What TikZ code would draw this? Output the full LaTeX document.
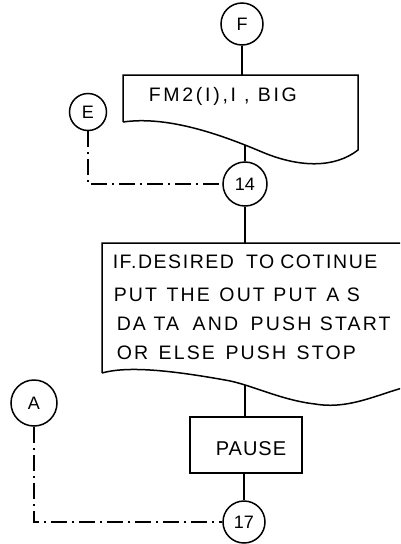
\documentclass[tikz,border=0pt]{standalone}
\usepackage{fontspec}
\setmainfont{Liberation Sans}
\newfontfamily\wide[LetterSpace=8]{Liberation Sans}
\newfontfamily\widea[LetterSpace=11]{Liberation Sans}
\newfontfamily\wider[LetterSpace=14]{Liberation Sans}
\newfontfamily\pausefont[LetterSpace=5]{Liberation Sans}
\newcommand{\gap}[1]{\hspace{#1pt}}
\begin{document}
\begin{tikzpicture}[x=1pt,y=-1pt,
  line width=1.5pt,
  conn/.style={circle,draw,minimum size=#1,inner sep=0pt,font=\fontsize{18}{18}\selectfont},
  conn/.default=42pt,
  box/.style={draw,minimum width=112pt,minimum height=56pt,inner sep=0pt},
  dd/.style={dash pattern=on 16pt off 5pt on 2pt off 5pt},
  txt/.style={font=\wide\fontsize{19.5}{19.5}\selectfont,inner sep=0pt,anchor=west},
  txtb/.style={font=\widea\fontsize{19.5}{19.5}\selectfont,inner sep=0pt,anchor=west}
]
\useasboundingbox (0,0) rectangle (400,544);
\clip (0,0) rectangle (400,544);
% connectors
\node[conn] (F) at (242,24) {F};
\node[conn=37pt] (E) at (88,112) {E};
\node[conn=44pt] (n14) at (245,184) {14};
\node[conn=46pt] (A) at (34,403) {A};
\node[conn=42pt] (n17) at (244,522) {17};
% document 1
\draw (123,122) -- (123,75) -- (358,75) -- (358,150)
  .. controls (335,168) and (300,168) .. (262,152)
  .. controls (215,132) and (165,116) .. (123,122);
\coordinate (d1top) at (F.south |- 0,75);
\coordinate (d1bot) at (n14.north |- 0,145);
\node[txt,font=\wider\fontsize{19.5}{19.5}\selectfont] (t1) at (148,96) {FM2(I),I , BIG};
% document 2
\draw (102,373) -- (102,243) -- (410,243) -- (410,386)
  .. controls (380,393) and (350,410) .. (315,404)
  .. controls (280,400) and (250,384) .. (225,380)
  .. controls (180,372) and (130,365) .. (102,373);
\coordinate (d2top) at (n14.south |- 0,243);
\coordinate (d2bot) at (245,385);
\node[txt] (l1) at (112,262) {IF.DESIRED\gap{12}TO\gap{6}COTINUE};
\node[txtb] (l2) at (113,295) {PUT \gap{2}THE \gap{2}OUT \gap{1}PUT \gap{2}A S};
\node[txtb] (l3) at (116,324) {DA TA \gap{6}AND \gap{5}PUSH \gap{1}START};
\node[txtb] (l4) at (116,353) {OR \gap{3}ELSE \gap{3}PUSH \gap{3}STOP};
% pause
\node[box] (P) at (246,445) {};
\node[font=\pausefont\fontsize{20}{20}\selectfont,inner sep=0pt] (pt) at (251,449) {PAUSE};
% flow lines
\draw (F) -- (d1top);
\draw (d1bot) -- (n14);
\draw (n14) -- (d2top);
\draw (d2bot) -- (P.north -| d2bot);
\draw (P.south -| n17.north) -- (n17);
% dash-dot returns
\draw[dd] (E.south) |- (n14.west);
\draw[dd] (A.south) |- (n17.west);
\end{tikzpicture}
\end{document}
